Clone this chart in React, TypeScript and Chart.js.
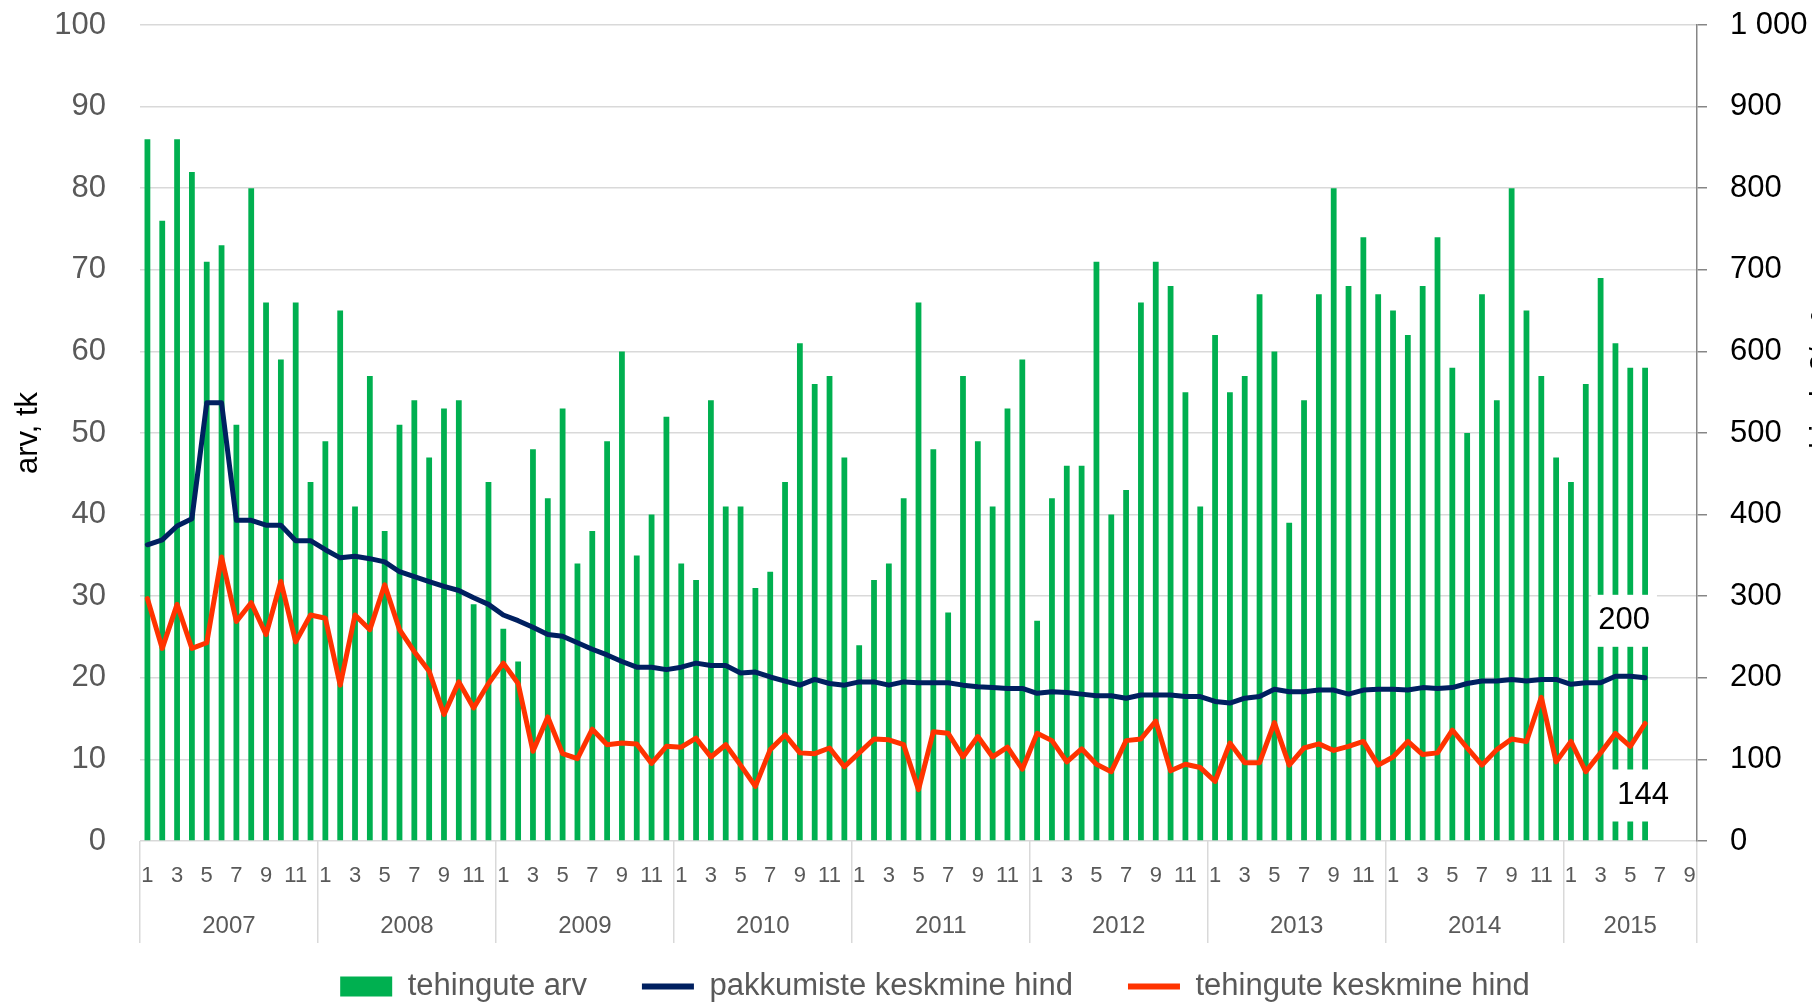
import React, { useEffect, useRef } from 'react';
import { Chart, registerables } from 'chart.js';

Chart.register(...registerables);

// ---------- data ----------
const years = ['2007', '2008', '2009', '2010', '2011', '2012', '2013', '2014', '2015'];
const monthsPerYear = [12, 12, 12, 12, 12, 12, 12, 12, 9];

// category labels: month numbers within each year
const monthLabels: string[] = years.flatMap((_, i) =>
  Array.from({ length: monthsPerYear[i] }, (_, m) => String(m + 1))
);

// tehingute arv (left axis, tk)
const tehinguteArv = [
  86, 76, 86, 82, 71, 73, 51, 80, 66, 59, 66, 44, // 2007
  49, 65, 41, 57, 38, 51, 54, 47, 53, 54, 29, 44, // 2008
  26, 22, 48, 42, 53, 34, 38, 49, 60, 35, 40, 52, // 2009
  34, 32, 54, 41, 41, 31, 33, 44, 61, 56, 57, 47, // 2010
  24, 32, 34, 42, 66, 48, 28, 57, 49, 41, 53, 59, // 2011
  27, 42, 46, 46, 71, 40, 43, 66, 71, 68, 55, 41, // 2012
  62, 55, 57, 67, 60, 39, 54, 67, 80, 68, 74, 67, // 2013
  65, 62, 68, 74, 58, 50, 67, 54, 80, 65, 57, 47, // 2014
  44, 56, 69, 61, 58, 58,                         // 2015
];

// pakkumiste keskmine hind (right axis)
const pakkumisteHind = [
  363, 369, 386, 395, 537, 537, 393, 393, 387, 387, 368, 368,
  357, 347, 349, 346, 342, 330, 324, 318, 312, 307, 298, 290,
  277, 270, 262, 253, 251, 243, 235, 228, 220, 213, 213, 210,
  213, 218, 215, 215, 206, 207, 201, 196, 191, 198, 193, 191,
  195, 195, 191, 195, 194, 194, 194, 191, 189, 188, 187, 187,
  181, 183, 182, 180, 178, 178, 175, 179, 179, 179, 177, 177,
  171, 169, 175, 177, 186, 183, 183, 185, 185, 180, 185, 186,
  186, 185, 188, 187, 188, 193, 196, 196, 198, 196, 198, 198,
  192, 194, 194, 202, 202, 200,
];

// tehingute keskmine hind (right axis)
const tehinguteHind = [
  297, 236, 290, 236, 243, 348, 269, 292, 253, 318, 244, 277,
  273, 191, 277, 259, 314, 259, 232, 208, 155, 195, 163, 193,
  218, 193, 110, 152, 107, 101, 137, 118, 120, 119, 95, 116,
  115, 126, 103, 118, 93, 67, 112, 130, 108, 107, 114, 91,
  108, 125, 124, 118, 63, 134, 132, 103, 128, 103, 115, 88,
  132, 123, 97, 113, 94, 85, 123, 125, 147, 86, 94, 90,
  73, 120, 96, 96, 145, 93, 114, 119, 111, 116, 122, 93,
  103, 122, 106, 108, 136, 114, 93, 112, 125, 122, 176, 97,
  122, 85, 108, 132, 116, 144,
];

const leftTitle = 'arv, tk';
const rightTitle = 'hind, €/m²';

// ---------- derived helpers ----------
const yearStarts = monthsPerYear.map((_, i) =>
  monthsPerYear.slice(0, i).reduce((a, b) => a + b, 0)
);
const yearCenters = yearStarts.map((s, i) => s + monthsPerYear[i] / 2);

const FONT = '"Liberation Sans", Arial, sans-serif';
Chart.defaults.font.family = FONT;

const GREEN = '#00B050';
const NAVY = '#002060';
const RED = '#FF3300';

const fmtThousands = (v: number) => String(v).replace(/\B(?=(\d{3})+(?!\d))/g, ' ');

// labels for the last point of the two line series
const lastPointLabels = [
  { dataset: 1, dx: -21, dy: -57 },
  { dataset: 2, dx: -2, dy: 72 },
];

const extrasPlugin = {
  id: 'extras',
  afterDatasetsDraw(chart: any) {
    const ctx = chart.ctx as CanvasRenderingContext2D;
    ctx.save();
    ctx.font = `31px ${FONT}`;
    ctx.textAlign = 'center';
    ctx.textBaseline = 'middle';
    lastPointLabels.forEach((l) => {
      const ds = chart.data.datasets[l.dataset];
      const idx = ds.data.length - 1;
      const el = chart.getDatasetMeta(l.dataset).data[idx];
      if (!el) return;
      const text = String(ds.data[idx]);
      const x = el.x + l.dx;
      const y = el.y + l.dy;
      const w = ctx.measureText(text).width + 14;
      ctx.fillStyle = '#ffffff';
      ctx.fillRect(x - w / 2, y - 26, w, 52);
      ctx.fillStyle = '#000000';
      ctx.fillText(text, x, y);
    });
    // right axis title (rotated, reading bottom to top)
    ctx.translate(chart.width + 20, 380);
    ctx.rotate(-Math.PI / 2);
    ctx.textAlign = 'center';
    ctx.textBaseline = 'alphabetic';
    ctx.fillStyle = '#000000';
    ctx.fillText(rightTitle, 0, 0);
    ctx.restore();
  },
};

export default function App() {
  const ref = useRef<HTMLCanvasElement>(null);

  useEffect(() => {
    if (!ref.current) return;
    const chart = new Chart(ref.current, {
      type: 'bar',
      data: {
        labels: monthLabels,
        datasets: [
          {
            type: 'bar',
            label: 'tehingute arv',
            data: tehinguteArv,
            backgroundColor: GREEN,
            borderWidth: 0,
            xAxisID: 'x',
            yAxisID: 'y',
            barPercentage: 0.39,
            categoryPercentage: 1,
            order: 3,
          },
          {
            type: 'line',
            label: 'pakkumiste keskmine hind',
            data: pakkumisteHind,
            borderColor: NAVY,
            backgroundColor: NAVY,
            borderWidth: 5,
            pointRadius: 0,
            tension: 0,
            borderJoinStyle: 'round',
            borderCapStyle: 'round',
            xAxisID: 'x',
            yAxisID: 'y1',
            order: 2,
          },
          {
            type: 'line',
            label: 'tehingute keskmine hind',
            data: tehinguteHind,
            borderColor: RED,
            backgroundColor: RED,
            borderWidth: 5,
            pointRadius: 0,
            tension: 0,
            borderJoinStyle: 'round',
            borderCapStyle: 'round',
            xAxisID: 'x',
            yAxisID: 'y1',
            order: 1,
          },
        ],
      } as any,
      options: {
        responsive: false,
        animation: false,
        devicePixelRatio: 1,
        layout: { padding: { top: 25, left: 0, right: -58, bottom: 0 } },
        plugins: {
          tooltip: { enabled: false },
          legend: {
            position: 'bottom',
            labels: {
              usePointStyle: true,
              pointStyleWidth: 52,
              boxHeight: 20,
              padding: 55,
              color: '#595959',
              font: { size: 31 },
              sort: (a: any, b: any) => a.datasetIndex - b.datasetIndex,
              generateLabels: (chart: any) =>
                chart.data.datasets.map((ds: any, i: number) => ({
                  text: ds.label,
                  datasetIndex: i,
                  fillStyle: ds.type === 'bar' ? ds.backgroundColor : ds.borderColor,
                  strokeStyle: ds.type === 'bar' ? ds.backgroundColor : ds.borderColor,
                  lineWidth: ds.type === 'bar' ? 0 : 6,
                  pointStyle: ds.type === 'bar' ? 'rect' : 'line',
                  hidden: false,
                  fontColor: '#595959',
                })),
            },
          },
        },
        scales: {
          x: {
            type: 'category',
            position: 'bottom',
            offset: true,
            weight: 0,
            grid: {
              display: true,
              offset: true,
              drawOnChartArea: false,
              drawTicks: true,
              tickLength: 102,
              lineWidth: 1.5,
              color: (c: any) =>
                c.index === undefined || c.index % 12 === 0 ? '#d9d9d9' : 'rgba(0,0,0,0)',
            },
            border: { display: false },
            ticks: { display: false, autoSkip: false },
            afterFit: (s: any) => {
              s.height = 0;
              s.paddingLeft = 0;
              s.paddingRight = 0;
            },
          },
          xm: {
            type: 'category',
            labels: monthLabels,
            position: 'bottom',
            offset: true,
            weight: 1,
            grid: { display: false },
            border: { display: false },
            ticks: {
              autoSkip: false,
              maxRotation: 0,
              mirror: true,
              padding: -48,
              color: '#595959',
              font: { size: 22 },
              callback: (_v: any, i: number) =>
                Number(monthLabels[i]) % 2 === 1 ? monthLabels[i] : '',
            },
            afterFit: (s: any) => {
              s.height = 0;
              s.paddingLeft = 0;
              s.paddingRight = 0;
            },
          },
          xy: {
            type: 'linear',
            position: 'bottom',
            offset: false,
            min: 0,
            max: monthLabels.length,
            weight: 2,
            grid: { display: false, offset: false },
            border: { display: false },
            afterBuildTicks: (s: any) => {
              s.ticks = yearCenters.map((v) => ({ value: v }));
            },
            ticks: {
              autoSkip: false,
              maxRotation: 0,
              mirror: true,
              padding: -100,
              color: '#595959',
              font: { size: 24 },
              callback: (v: any) => {
                const i = yearCenters.indexOf(Number(v));
                return i >= 0 ? years[i] : '';
              },
            },
            afterFit: (s: any) => {
              s.height = 75;
              s.paddingLeft = 0;
              s.paddingRight = 0;
            },
          },
          y: {
            type: 'linear',
            position: 'left',
            min: 0,
            max: 100,
            ticks: { stepSize: 10, padding: 34, color: '#595959', font: { size: 31 } },
            grid: { color: '#d9d9d9', lineWidth: 1.5, drawTicks: false },
            border: { display: false },
            title: {
              display: true,
              text: leftTitle,
              color: '#000000',
              font: { size: 31 },
              padding: { top: 10, bottom: 0 },
            },
            afterFit: (s: any) => {
              s.width = 140;
              s.paddingTop = 0;
              s.paddingBottom = 0;
            },
          },
          y1: {
            type: 'linear',
            position: 'right',
            min: 0,
            max: 1000,
            ticks: {
              stepSize: 100,
              padding: 23,
              color: '#000000',
              font: { size: 31 },
              callback: (v: any) => fmtThousands(Number(v)),
            },
            grid: {
              drawOnChartArea: false,
              drawTicks: true,
              tickLength: 10,
              color: '#868686',
              lineWidth: 1.5,
            },
            border: { display: true, color: '#868686', width: 1.5 },
            afterFit: (s: any) => {
              s.width = 173;
              s.paddingTop = 0;
              s.paddingBottom = 0;
            },
          },
        },
      } as any,
      plugins: [extrasPlugin],
    });
    return () => chart.destroy();
  }, []);

  return (
    <div
      style={{
        position: 'fixed',
        left: 0,
        top: 0,
        width: 1812,
        height: 1002,
        overflow: 'hidden',
        background: '#ffffff',
      }}
    >
      <canvas ref={ref} width={1812} height={1012} style={{ display: 'block', width: 1812, height: 1012 }} />
    </div>
  );
}
